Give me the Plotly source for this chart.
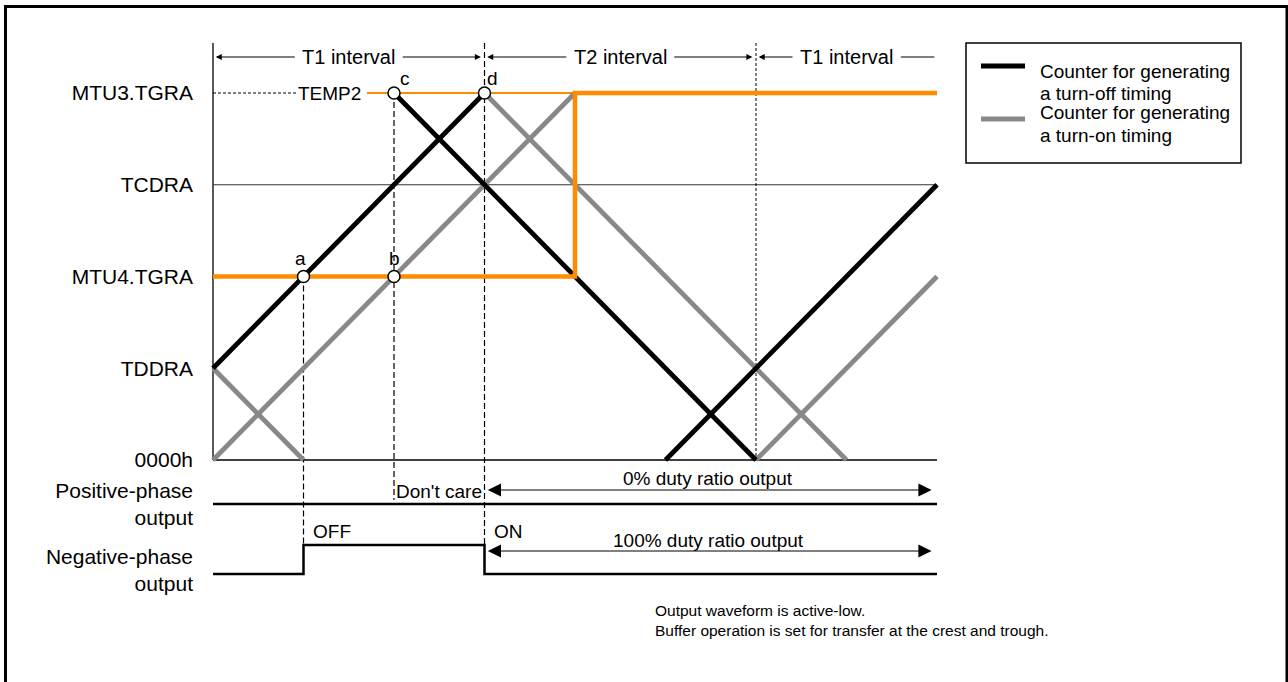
import plotly.graph_objects as go

# --- data: time in counter half-steps, level in register units ---
level_ticks = [0, 1, 2, 3, 4]
level_names = ["0000h", "TDDRA", "MTU4.TGRA", "TCDRA", "MTU3.TGRA"]

# counter for turn-off timing (black), segments separated by None
off_t = [0, 3, None, 2, 6, None, 5, 8]
off_lv = [1, 4, None, 4, 0, None, 0, 3]
# counter for turn-on timing (gray)
on_t = [0, 1, None, 0, 4, None, 3, 7, None, 6, 8]
on_lv = [1, 0, None, 0, 4, None, 4, 0, None, 0, 2]
# compare register (orange)
cmp_t = [0, 4, 4, 8]
cmp_lv = [2, 2, 4, 4]
temp2_t = [1.7, 4]
temp2_lv = [4, 4]

pts_name = ["a", "b", "c", "d"]
pts_t = [1, 2, 2, 3]
pts_lv = [2, 2, 4, 4]

intervals = [("T1 interval", 0, 3), ("T2 interval", 3, 6), ("T1 interval", 6, 8)]

# output waveforms (0 = low, 1 = high)
pos_t = [0, 8]
pos_st = [0, 0]
neg_t = [0, 1, 1, 3, 3, 8]
neg_st = [0, 0, 1, 1, 0, 0]

legend_names = [["Counter for generating", "a turn-off timing"],
                ["Counter for generating", "a turn-on timing"]]
legend_colors = ["black", "#888888"]

# --- layout helpers (pixel anchors) ---
W, H = 1288, 682
X0, PXX = 213, 90.5      # t=0 pixel, px per time unit
Y0, PXY = 460, 91.75     # level 0 pixel, px per level
TOP = (Y0 - 43) / PXY
POS_BASE = (Y0 - 504) / PXY
NEG_BASE = (Y0 - 574) / PXY
AMP = 29 / PXY
FONT = "Liberation Sans, Arial, sans-serif"
ORANGE = "#FF8C00"
GRAY = "#888888"

fig = go.Figure()

def line(x, y, color, width, dash="solid"):
    fig.add_trace(go.Scatter(x=x, y=y, mode="lines", showlegend=False,
                             line=dict(color=color, width=width, dash=dash),
                             hoverinfo="skip"))

# outer frame (page border)
fx0, fx1 = (5.5 - X0) / PXX, (1287 - X0) / PXX
fy0, fy1 = (Y0 - H - 5) / PXY, (Y0 - 6.5) / PXY
line([fx0, fx0, fx1, fx1], [fy0, fy1, fy1, fy0], "black", 3)

# axes frame + reference level
line([0, 0], [0, TOP], "black", 1.3)
line([0, 8], [0, 0], "black", 1.3)
line([0, 8], [3, 3], "#333333", 1.2)

# vertical guide lines
line([1, 1], [2, NEG_BASE + AMP], "black", 1.2, "6px,3px")
line([2, 2], [4, (Y0 - 500) / PXY], "black", 1.2, "6px,3px")
line([3, 3], [TOP, NEG_BASE + AMP], "black", 1.2, "6px,3px")
line([6, 6], [TOP, 0], "black", 1, "3px,2px")

# TEMP2 dashed lead
line([0, 0.93], [4, 4], "black", 1, "3px,2px")
line(temp2_t, temp2_lv, ORANGE, 1.8)

line(on_t, on_lv, GRAY, 4.8)
line(off_t, off_lv, "black", 4.8)
line(cmp_t, cmp_lv, ORANGE, 4.5)

# output waveforms
line(pos_t, [POS_BASE + s * AMP for s in pos_st], "black", 2.5)
line(neg_t, [NEG_BASE + s * AMP for s in neg_st], "black", 2.5)

# points a-d
fig.add_trace(go.Scatter(x=pts_t, y=pts_lv, mode="markers", showlegend=False, hoverinfo="skip",
                         marker=dict(size=12, color="white", line=dict(color="black", width=1.5))))

ann = []
def text(x, y, s, size=19, xanchor="center", yanchor="middle"):
    ann.append(dict(x=x, y=y, xref="x", yref="y", text=s, showarrow=False,
                    xanchor=xanchor, yanchor=yanchor, font=dict(size=size, color="black", family=FONT)))

offs = {"a": (-0.03, 0.2), "b": (0, 0.2), "c": (0.12, 0.16), "d": (0.09, 0.16)}
for n, t, lv in zip(pts_name, pts_t, pts_lv):
    dx, dy = offs[n]
    text(t + dx, lv + dy, n)

text(1.29, 4, "TEMP2")

# interval arrows
YA = (Y0 - 57) / PXY
for lab, a, b in intervals:
    mid = (a + b) / 2
    text(mid, YA, lab, 20)
    ann.append(dict(x=a + 0.03, y=YA, ax=mid - 0.58, ay=YA, xref="x", yref="y", axref="x", ayref="y",
                    text="", showarrow=True, arrowhead=2, arrowsize=1.2, arrowwidth=1, arrowcolor="black"))
    if b < 8:
        ann.append(dict(x=b - 0.04, y=YA, ax=mid + 0.58, ay=YA, xref="x", yref="y", axref="x", ayref="y",
                        text="", showarrow=True, arrowhead=2, arrowsize=1.2, arrowwidth=1, arrowcolor="black"))
    else:
        line([mid + 0.6, b - 0.03], [YA, YA], "black", 1)

# duty ratio arrows
for yl, yt, s in [((Y0 - 490) / PXY, (Y0 - 478) / PXY, "0% duty ratio output"),
                  ((Y0 - 551) / PXY, (Y0 - 540) / PXY, "100% duty ratio output")]:
    ann.append(dict(x=7.94, y=yl, ax=3.02, ay=yl, xref="x", yref="y", axref="x", ayref="y",
                    text="", showarrow=True, arrowhead=2, arrowside="end+start", arrowsize=2.2,
                    arrowwidth=1.2, arrowcolor="black"))
    text((3 + 7.94) / 2, yt, s)

text(2.0, (Y0 - 491) / PXY, "Don't care", xanchor="left")
text(1.08, (Y0 - 531) / PXY, "OFF", xanchor="left")
text(3.08, (Y0 - 531) / PXY, "ON", xanchor="left")

ann.append(dict(x=4.86, y=(Y0 - 620) / PXY, xref="x", yref="y", showarrow=False, align="left",
                xanchor="left", yanchor="middle",
                text="Output waveform is active-low.<br>Buffer operation is set for transfer at the crest and trough.",
                font=dict(size=15.5, color="black", family=FONT)))

# hand-drawn legend box
shapes = [dict(type="rect", xref="paper", yref="paper", x0=966 / W, x1=1241 / W,
               y0=1 - 163 / H, y1=1 - 43 / H, line=dict(color="black", width=1.5))]
for i, (names, col) in enumerate(zip(legend_names, legend_colors)):
    ys = 66 + 53 * i
    shapes.append(dict(type="line", xref="paper", yref="paper", x0=981 / W, x1=1025 / W,
                       y0=1 - ys / H, y1=1 - ys / H, line=dict(color=col, width=5)))
    for j, s in enumerate(names):
        ann.append(dict(x=1038 / W, y=1 - (71 + 42 * i + 22 * j) / H, xref="paper", yref="paper",
                        text=s, showarrow=False, xanchor="left", yanchor="middle",
                        font=dict(size=19, color="black", family=FONT)))

fig.update_layout(
    width=W, height=H,
    margin=dict(l=0, r=0, t=0, b=0),
    paper_bgcolor="white", plot_bgcolor="white",
    font=dict(family=FONT, color="black"),
    showlegend=False,
    annotations=ann,
    shapes=shapes,
    xaxis=dict(range=[-X0 / PXX, (W - X0) / PXX], visible=False, fixedrange=True),
    yaxis=dict(range=[(Y0 - H) / PXY, Y0 / PXY], anchor="free", position=X0 / W,
               tickvals=level_ticks + [POS_BASE, (Y0 - 570) / PXY],
               ticktext=level_names + ["Positive-phase<br>output", "Negative-phase<br>output"],
               tickfont=dict(size=21, family=FONT, color="black"),
               ticks="", showgrid=False, zeroline=False, showline=False,
               ticklabelstandoff=20, automargin=False, fixedrange=True),
)

fig.write_html("out.html", config={"displayModeBar": False},
               post_script="document.body.style.margin='0';")
